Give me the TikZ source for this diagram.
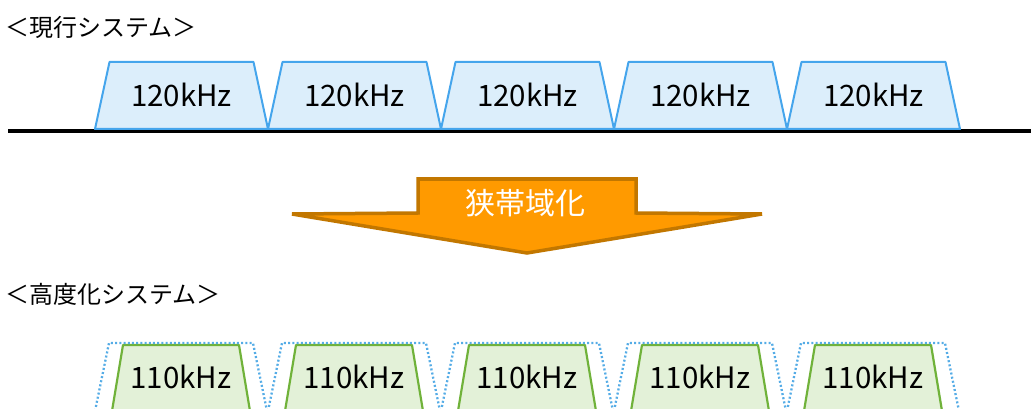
\documentclass[tikz,border=0pt]{standalone}
\usepackage{fontspec}
\setmainfont{Noto Sans CJK JP}
\definecolor{bandblue}{HTML}{DCEEFB}
\definecolor{edgeblue}{HTML}{45A5EC}
\definecolor{bandgreen}{HTML}{E3F1D8}
\definecolor{edgegreen}{HTML}{70B23A}
\definecolor{dotblue}{HTML}{55ACE6}
\definecolor{arrowfill}{HTML}{FF9A00}
\definecolor{arrowedge}{HTML}{C27700}
\begin{document}
\begin{tikzpicture}[x=1pt,y=-1pt,
  lbl/.style={font=\fontsize{29.5}{34}\selectfont, text=black, inner sep=0pt},
  ttl/.style={font=\fontsize{24}{29}\selectfont, text=black, anchor=west, inner sep=0pt},
  oldband/.style={fill=bandblue, draw=edgeblue, line width=2pt, line join=round},
  newband/.style={fill=bandgreen, draw=edgegreen, line width=2.2pt, line join=round},
  ghost/.style={draw=dotblue, line width=2.3pt, dash pattern=on 2pt off 2.2pt},
  axis/.style={draw=black, line width=3.5pt},
  bigarrow/.style={fill=arrowfill, draw=arrowedge, line width=3.5pt, line join=miter},
  arrowtxt/.style={font=\fontsize{30}{34}\selectfont, text=white, inner sep=0pt}
]
\useasboundingbox (0,0) rectangle (1031,409);
\clip (0,0) rectangle (1031,409);

% titles
\node[ttl] (title1) at (5,27) {＜現行システム＞};
\node[ttl] (title2) at (5,294) {＜高度化システム＞};

% current system
\coordinate (axL) at (8,131);
\coordinate (axR) at (1031,131);
\draw[axis] (axL) -- (axR);
\foreach \i in {0,...,4}{
  \pgfmathsetmacro\xa{95+173*\i}
  \draw[oldband] (\xa,129) -- (\xa+14.5,62) -- (\xa+158.5,62) -- (\xa+173,129) -- cycle;
  \node[lbl] (old\i) at (\xa+86.5,95) {120kHz};
}

% arrow
\coordinate (a1) at (418,179);
\coordinate (a2) at (636,179);
\coordinate (a3) at (636,213);
\coordinate (a4) at (762,214);
\coordinate (a5) at (527,253);
\coordinate (a6) at (292,214);
\coordinate (a7) at (418,213);
\draw[bigarrow] (a1) -- (a2) -- (a3) -- (a4) -- (a5) -- (a6) -- (a7) -- cycle;
\node[arrowtxt] (narrow) at (525,203) {狭帯域化};

% advanced system
\foreach \i in {0,...,4}{
  \pgfmathsetmacro\xa{181+173*\i}
  \draw[newband] (\xa-58,345) -- (\xa+58,345) -- (\xa+70.5,420) -- (\xa-70.5,420) -- cycle;
  \draw[ghost] (\xa-86,411) -- (\xa-72,343) -- (\xa+72,343) -- (\xa+86,411);
  \node[lbl] (new\i) at (\xa,377) {110kHz};
}
\end{tikzpicture}
\end{document}
